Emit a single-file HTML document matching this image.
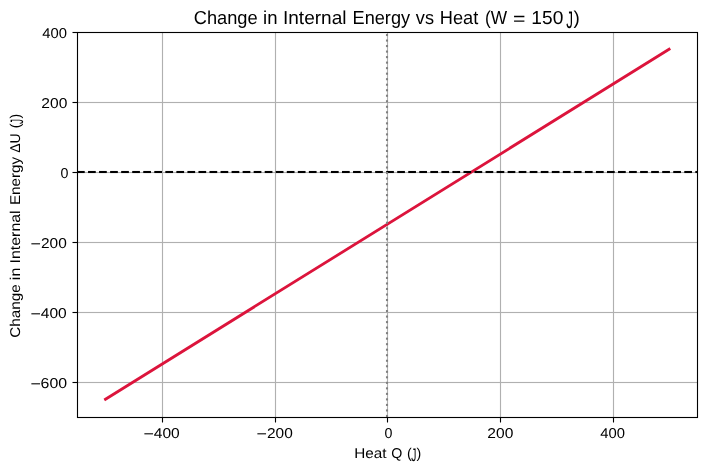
<!DOCTYPE html>
<html><head><meta charset="utf-8"><title>Change in Internal Energy vs Heat</title>
<style>
html,body{margin:0;padding:0;background:#fff;}
body{width:707px;height:470px;position:relative;overflow:hidden;font-family:"Liberation Sans",sans-serif;color:#000;}
svg{position:absolute;left:0;top:0;}
.t{position:absolute;white-space:pre;line-height:1;transform-origin:0 0;text-rendering:geometricPrecision;}
.txt{position:absolute;left:0;top:0;width:707px;height:470px;will-change:transform;transform:translateZ(0);}
.v{position:absolute;left:0;top:0;width:0;height:0;transform-origin:0 0;transform:translate(0px,0) rotate(-90deg);}
</style></head><body>
<svg width="707" height="470" viewBox="0 0 707 470">
<rect width="707" height="470" fill="#fff"/>
<g stroke="#b0b0b0" stroke-width="1.125" fill="none">
<line x1="162.5" y1="32.5" x2="162.5" y2="417.5"/><line x1="275.5" y1="32.5" x2="275.5" y2="417.5"/><line x1="387.5" y1="32.5" x2="387.5" y2="417.5"/><line x1="500.5" y1="32.5" x2="500.5" y2="417.5"/><line x1="613.5" y1="32.5" x2="613.5" y2="417.5"/><rect x="77.5" y="101.9375" width="620.0" height="1.125" fill="#b0b0b0" stroke="none"/><rect x="77.5" y="171.9375" width="620.0" height="1.125" fill="#b0b0b0" stroke="none"/><rect x="77.5" y="241.9375" width="620.0" height="1.125" fill="#b0b0b0" stroke="none"/><rect x="77.5" y="311.9375" width="620.0" height="1.125" fill="#b0b0b0" stroke="none"/><rect x="77.5" y="381.9375" width="620.0" height="1.125" fill="#b0b0b0" stroke="none"/>
</g>
<line x1="105.46" y1="399.22" x2="669.10" y2="49.22" stroke="#dc143c" stroke-width="2.778" stroke-linecap="square"/>
<g fill="#000"><rect x="77.000" y="170.9583" width="7.708" height="2.0833"/><rect x="88.042" y="170.9583" width="7.708" height="2.0833"/><rect x="99.083" y="170.9583" width="7.708" height="2.0833"/><rect x="110.125" y="170.9583" width="7.708" height="2.0833"/><rect x="121.166" y="170.9583" width="7.708" height="2.0833"/><rect x="132.208" y="170.9583" width="7.708" height="2.0833"/><rect x="143.250" y="170.9583" width="7.708" height="2.0833"/><rect x="154.291" y="170.9583" width="7.708" height="2.0833"/><rect x="165.333" y="170.9583" width="7.708" height="2.0833"/><rect x="176.374" y="170.9583" width="7.708" height="2.0833"/><rect x="187.416" y="170.9583" width="7.708" height="2.0833"/><rect x="198.458" y="170.9583" width="7.708" height="2.0833"/><rect x="209.499" y="170.9583" width="7.708" height="2.0833"/><rect x="220.541" y="170.9583" width="7.708" height="2.0833"/><rect x="231.582" y="170.9583" width="7.708" height="2.0833"/><rect x="242.624" y="170.9583" width="7.708" height="2.0833"/><rect x="253.666" y="170.9583" width="7.708" height="2.0833"/><rect x="264.707" y="170.9583" width="7.708" height="2.0833"/><rect x="275.749" y="170.9583" width="7.708" height="2.0833"/><rect x="286.790" y="170.9583" width="7.708" height="2.0833"/><rect x="297.832" y="170.9583" width="7.708" height="2.0833"/><rect x="308.874" y="170.9583" width="7.708" height="2.0833"/><rect x="319.915" y="170.9583" width="7.708" height="2.0833"/><rect x="330.957" y="170.9583" width="7.708" height="2.0833"/><rect x="341.998" y="170.9583" width="7.708" height="2.0833"/><rect x="353.040" y="170.9583" width="7.708" height="2.0833"/><rect x="364.082" y="170.9583" width="7.708" height="2.0833"/><rect x="375.123" y="170.9583" width="7.708" height="2.0833"/><rect x="386.165" y="170.9583" width="7.708" height="2.0833"/><rect x="397.206" y="170.9583" width="7.708" height="2.0833"/><rect x="408.248" y="170.9583" width="7.708" height="2.0833"/><rect x="419.290" y="170.9583" width="7.708" height="2.0833"/><rect x="430.331" y="170.9583" width="7.708" height="2.0833"/><rect x="441.373" y="170.9583" width="7.708" height="2.0833"/><rect x="452.414" y="170.9583" width="7.708" height="2.0833"/><rect x="463.456" y="170.9583" width="7.708" height="2.0833"/><rect x="474.498" y="170.9583" width="7.708" height="2.0833"/><rect x="485.539" y="170.9583" width="7.708" height="2.0833"/><rect x="496.581" y="170.9583" width="7.708" height="2.0833"/><rect x="507.622" y="170.9583" width="7.708" height="2.0833"/><rect x="518.664" y="170.9583" width="7.708" height="2.0833"/><rect x="529.706" y="170.9583" width="7.708" height="2.0833"/><rect x="540.747" y="170.9583" width="7.708" height="2.0833"/><rect x="551.789" y="170.9583" width="7.708" height="2.0833"/><rect x="562.830" y="170.9583" width="7.708" height="2.0833"/><rect x="573.872" y="170.9583" width="7.708" height="2.0833"/><rect x="584.914" y="170.9583" width="7.708" height="2.0833"/><rect x="595.955" y="170.9583" width="7.708" height="2.0833"/><rect x="606.997" y="170.9583" width="7.708" height="2.0833"/><rect x="618.038" y="170.9583" width="7.708" height="2.0833"/><rect x="629.080" y="170.9583" width="7.708" height="2.0833"/><rect x="640.122" y="170.9583" width="7.708" height="2.0833"/><rect x="651.163" y="170.9583" width="7.708" height="2.0833"/><rect x="662.205" y="170.9583" width="7.708" height="2.0833"/><rect x="673.246" y="170.9583" width="7.708" height="2.0833"/><rect x="684.288" y="170.9583" width="7.708" height="2.0833"/><rect x="695.330" y="170.9583" width="1.670" height="2.0833"/></g>
<g fill="#808080"><rect x="385.9583" y="414.917" width="2.0833" height="2.083"/><rect x="385.9583" y="409.396" width="2.0833" height="2.083"/><rect x="385.9583" y="403.875" width="2.0833" height="2.083"/><rect x="385.9583" y="398.354" width="2.0833" height="2.083"/><rect x="385.9583" y="392.833" width="2.0833" height="2.083"/><rect x="385.9583" y="387.313" width="2.0833" height="2.083"/><rect x="385.9583" y="381.792" width="2.0833" height="2.083"/><rect x="385.9583" y="376.271" width="2.0833" height="2.083"/><rect x="385.9583" y="370.750" width="2.0833" height="2.083"/><rect x="385.9583" y="365.229" width="2.0833" height="2.083"/><rect x="385.9583" y="359.709" width="2.0833" height="2.083"/><rect x="385.9583" y="354.188" width="2.0833" height="2.083"/><rect x="385.9583" y="348.667" width="2.0833" height="2.083"/><rect x="385.9583" y="343.146" width="2.0833" height="2.083"/><rect x="385.9583" y="337.625" width="2.0833" height="2.083"/><rect x="385.9583" y="332.105" width="2.0833" height="2.083"/><rect x="385.9583" y="326.584" width="2.0833" height="2.083"/><rect x="385.9583" y="321.063" width="2.0833" height="2.083"/><rect x="385.9583" y="315.542" width="2.0833" height="2.083"/><rect x="385.9583" y="310.021" width="2.0833" height="2.083"/><rect x="385.9583" y="304.501" width="2.0833" height="2.083"/><rect x="385.9583" y="298.980" width="2.0833" height="2.083"/><rect x="385.9583" y="293.459" width="2.0833" height="2.083"/><rect x="385.9583" y="287.938" width="2.0833" height="2.083"/><rect x="385.9583" y="282.417" width="2.0833" height="2.083"/><rect x="385.9583" y="276.897" width="2.0833" height="2.083"/><rect x="385.9583" y="271.376" width="2.0833" height="2.083"/><rect x="385.9583" y="265.855" width="2.0833" height="2.083"/><rect x="385.9583" y="260.334" width="2.0833" height="2.083"/><rect x="385.9583" y="254.813" width="2.0833" height="2.083"/><rect x="385.9583" y="249.293" width="2.0833" height="2.083"/><rect x="385.9583" y="243.772" width="2.0833" height="2.083"/><rect x="385.9583" y="238.251" width="2.0833" height="2.083"/><rect x="385.9583" y="232.730" width="2.0833" height="2.083"/><rect x="385.9583" y="227.209" width="2.0833" height="2.083"/><rect x="385.9583" y="221.689" width="2.0833" height="2.083"/><rect x="385.9583" y="216.168" width="2.0833" height="2.083"/><rect x="385.9583" y="210.647" width="2.0833" height="2.083"/><rect x="385.9583" y="205.126" width="2.0833" height="2.083"/><rect x="385.9583" y="199.605" width="2.0833" height="2.083"/><rect x="385.9583" y="194.085" width="2.0833" height="2.083"/><rect x="385.9583" y="188.564" width="2.0833" height="2.083"/><rect x="385.9583" y="183.043" width="2.0833" height="2.083"/><rect x="385.9583" y="177.522" width="2.0833" height="2.083"/><rect x="385.9583" y="172.001" width="2.0833" height="2.083"/><rect x="385.9583" y="166.481" width="2.0833" height="2.083"/><rect x="385.9583" y="160.960" width="2.0833" height="2.083"/><rect x="385.9583" y="155.439" width="2.0833" height="2.083"/><rect x="385.9583" y="149.918" width="2.0833" height="2.083"/><rect x="385.9583" y="144.397" width="2.0833" height="2.083"/><rect x="385.9583" y="138.877" width="2.0833" height="2.083"/><rect x="385.9583" y="133.356" width="2.0833" height="2.083"/><rect x="385.9583" y="127.835" width="2.0833" height="2.083"/><rect x="385.9583" y="122.314" width="2.0833" height="2.083"/><rect x="385.9583" y="116.793" width="2.0833" height="2.083"/><rect x="385.9583" y="111.273" width="2.0833" height="2.083"/><rect x="385.9583" y="105.752" width="2.0833" height="2.083"/><rect x="385.9583" y="100.231" width="2.0833" height="2.083"/><rect x="385.9583" y="94.710" width="2.0833" height="2.083"/><rect x="385.9583" y="89.189" width="2.0833" height="2.083"/><rect x="385.9583" y="83.669" width="2.0833" height="2.083"/><rect x="385.9583" y="78.148" width="2.0833" height="2.083"/><rect x="385.9583" y="72.627" width="2.0833" height="2.083"/><rect x="385.9583" y="67.106" width="2.0833" height="2.083"/><rect x="385.9583" y="61.585" width="2.0833" height="2.083"/><rect x="385.9583" y="56.065" width="2.0833" height="2.083"/><rect x="385.9583" y="50.544" width="2.0833" height="2.083"/><rect x="385.9583" y="45.023" width="2.0833" height="2.083"/><rect x="385.9583" y="39.502" width="2.0833" height="2.083"/><rect x="385.9583" y="33.981" width="2.0833" height="2.083"/></g>
<g stroke="#000" stroke-width="1.111" fill="none">
<line x1="162.5" y1="417.5" x2="162.5" y2="422.500"/><line x1="275.5" y1="417.5" x2="275.5" y2="422.500"/><line x1="387.5" y1="417.5" x2="387.5" y2="422.500"/><line x1="500.5" y1="417.5" x2="500.5" y2="422.500"/><line x1="613.5" y1="417.5" x2="613.5" y2="422.500"/><rect x="72.500" y="31.9445" width="5" height="1.111" fill="#000" stroke="none"/><rect x="72.500" y="101.9445" width="5" height="1.111" fill="#000" stroke="none"/><rect x="72.500" y="171.9445" width="5" height="1.111" fill="#000" stroke="none"/><rect x="72.500" y="241.9445" width="5" height="1.111" fill="#000" stroke="none"/><rect x="72.500" y="311.9445" width="5" height="1.111" fill="#000" stroke="none"/><rect x="72.500" y="381.9445" width="5" height="1.111" fill="#000" stroke="none"/>
<rect x="77.5" y="32.5" width="620.0" height="385.0" stroke-linejoin="miter"/>
</g>
</svg>
<div class="txt">
<span class="t" style="left:0;top:9px;font-size:18.8px;transform:translate(193.74px,0px) scale(0.9717,1.0000);">Change</span>
<span class="t" style="left:0;top:9px;font-size:18.8px;transform:translate(263.03px,0px) scale(0.9881,1.0000);">in</span>
<span class="t" style="left:0;top:9px;font-size:18.8px;transform:translate(282.98px,0px) scale(1.0140,1.0000);">Internal</span>
<span class="t" style="left:0;top:9px;font-size:18.8px;transform:translate(352.58px,0px) scale(0.9654,1.0000);">Energy</span>
<span class="t" style="left:0;top:9px;font-size:18.8px;transform:translate(415.81px,0px) scale(0.9666,1.0000);">vs</span>
<span class="t" style="left:0;top:9px;font-size:18.8px;transform:translate(439.72px,0px) scale(0.9701,1.0000);">Heat</span>
<span class="t" style="left:0;top:9px;font-size:18.8px;transform:translate(484.98px,0px) scale(0.9217,1.0000);">(W</span>
<span class="t" style="left:0;top:10px;font-size:18.8px;transform:translate(513.09px,0px) scale(1.1345,1.0000);">=</span>
<span class="t" style="left:0;top:9px;font-size:18.8px;transform:translate(531.36px,0px) scale(1.0198,1.0000);">150</span>
<span class="t" style="left:0;top:9px;font-size:18.8px;transform:translate(566.34px,0px) scale(0.7200,1.2700);">J</span>
<span class="t" style="left:0;top:9px;font-size:18.8px;transform:translate(573.41px,0px) scale(1.0000,1.0000);">)</span>
<span class="t" style="left:0;top:447px;font-size:14.2px;transform:translate(354.32px,0px) scale(1.0766,1.0000);">Heat</span>
<span class="t" style="left:0;top:447px;font-size:14.2px;transform:translate(391.15px,0px) scale(1.0033,1.0000);">Q</span>
<span class="t" style="left:0;top:447px;font-size:14.2px;transform:translate(407.03px,0px) scale(1.0000,1.0000);">(</span>
<span class="t" style="left:0;top:447px;font-size:14.2px;transform:translate(411.17px,0px) scale(0.7200,1.2700);">J</span>
<span class="t" style="left:0;top:447px;font-size:14.2px;transform:translate(416.61px,0px) scale(1.0000,1.0000);">)</span>
<span class="t" style="left:0;top:427px;font-size:14.2px;transform:translate(143.51px,0px) scale(1.2558,1.1000);">−</span>
<span class="t" style="left:0;top:427px;font-size:14.2px;transform:translate(153.77px,0px) scale(1.0960,1.0000);">400</span>
<span class="t" style="left:0;top:427px;font-size:14.2px;transform:translate(256.51px,0px) scale(1.2558,1.1000);">−</span>
<span class="t" style="left:0;top:427px;font-size:14.2px;transform:translate(266.99px,0px) scale(1.0877,1.0000);">200</span>
<span class="t" style="left:0;top:427px;font-size:14.2px;transform:translate(384.43px,0px) scale(1.0035,1.0000);">0</span>
<span class="t" style="left:0;top:427px;font-size:14.2px;transform:translate(487.36px,0px) scale(1.0967,1.0000);">200</span>
<span class="t" style="left:0;top:427px;font-size:14.2px;transform:translate(600.19px,0px) scale(1.0421,1.0000);">400</span>
<span class="t" style="left:0;top:27px;font-size:14.2px;transform:translate(42.19px,0px) scale(1.0421,1.0000);">400</span>
<span class="t" style="left:0;top:97px;font-size:14.2px;transform:translate(41.36px,0px) scale(1.0967,1.0000);">200</span>
<span class="t" style="left:0;top:167px;font-size:14.2px;transform:translate(60.43px,0px) scale(1.0035,1.0000);">0</span>
<span class="t" style="left:0;top:237px;font-size:14.2px;transform:translate(30.51px,0px) scale(1.2558,1.1000);">−</span>
<span class="t" style="left:0;top:237px;font-size:14.2px;transform:translate(40.99px,0px) scale(1.0877,1.0000);">200</span>
<span class="t" style="left:0;top:307px;font-size:14.2px;transform:translate(30.51px,0px) scale(1.2558,1.1000);">−</span>
<span class="t" style="left:0;top:307px;font-size:14.2px;transform:translate(40.77px,0px) scale(1.0960,1.0000);">400</span>
<span class="t" style="left:0;top:377px;font-size:14.2px;transform:translate(30.51px,0px) scale(1.2558,1.1000);">−</span>
<span class="t" style="left:0;top:377px;font-size:14.2px;transform:translate(40.59px,0px) scale(1.1181,1.0000);">600</span>
<div class="v"><span class="t" style="left:0;top:9px;font-size:14.2px;transform:translate(-152.87px,0.0px) scale(0.9860,1.0000);">ΔU</span></div>
<div class="v"><span class="t" style="left:0;top:9px;font-size:14.2px;transform:translate(-205.08px,0.0px) scale(1.0716,1.0000);">Energy</span></div>
<div class="v"><span class="t" style="left:0;top:9px;font-size:14.2px;transform:translate(-263.46px,0.0px) scale(1.1225,1.0000);">Internal</span></div>
<div class="v"><span class="t" style="left:0;top:9px;font-size:14.2px;transform:translate(-280.15px,0.0px) scale(1.1214,1.0000);">in</span></div>
<div class="v"><span class="t" style="left:0;top:9px;font-size:14.2px;transform:translate(-337.79px,0.0px) scale(1.0761,1.0000);">Change</span></div>
<div class="v"><span class="t" style="left:0;top:9px;font-size:14.2px;transform:translate(-118.59px,0px) scale(1.0000,1.0000);">)</span></div>
<div class="v"><span class="t" style="left:0;top:9px;font-size:14.2px;transform:translate(-124.00px,0px) scale(0.7200,1.2700);">J</span></div>
<div class="v"><span class="t" style="left:0;top:9px;font-size:14.2px;transform:translate(-128.29px,0px) scale(1.0000,1.0000);">(</span></div>
</div>
</body></html>
